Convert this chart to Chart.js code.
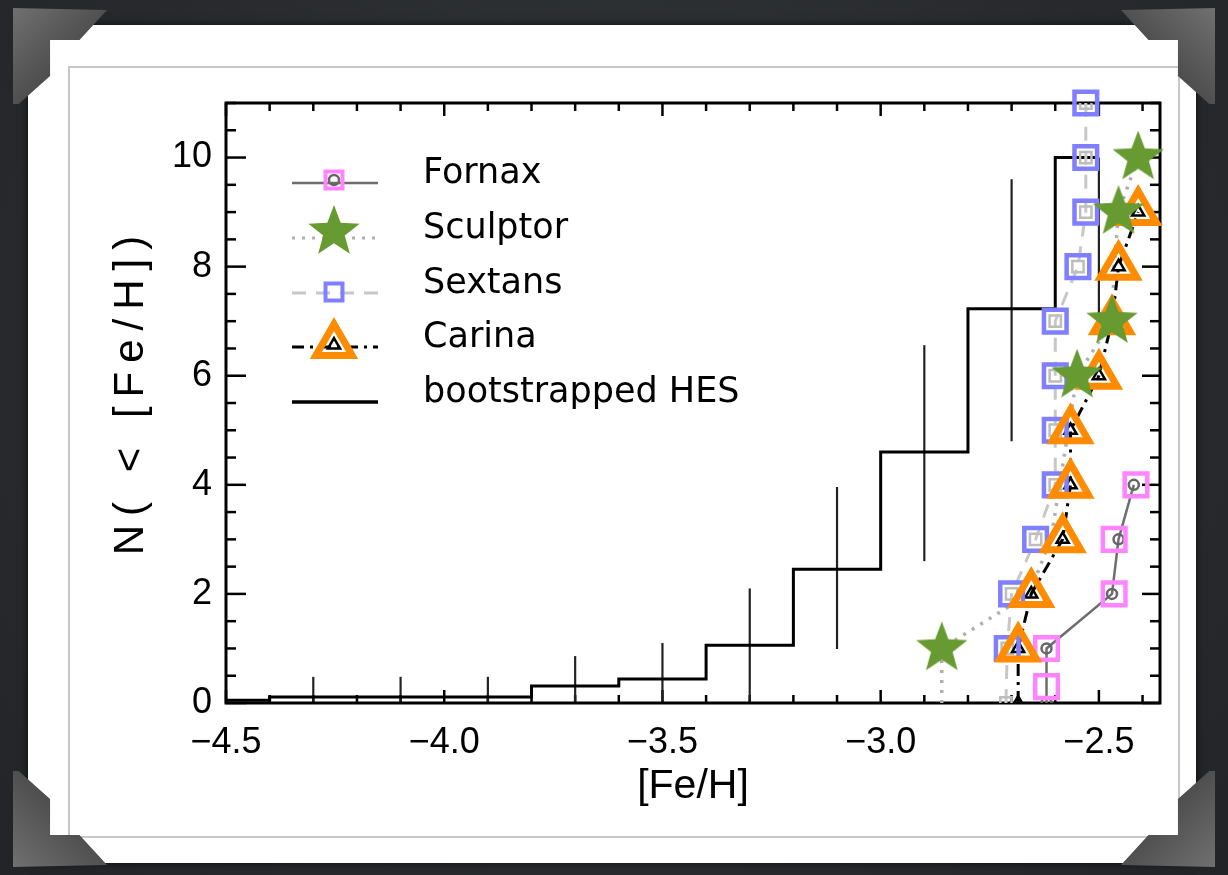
<!DOCTYPE html>
<html>
<head>
<meta charset="utf-8">
<script src="https://cdn.jsdelivr.net/npm/chart.js@4.4.1/dist/chart.umd.min.js"></script>
<style>
  html, body { margin: 0; padding: 0; }
  body { width: 1228px; height: 875px; overflow: hidden; position: relative;
         background: radial-gradient(circle at 50% 40%, #34373a, #222427); }
  .card { position: absolute; left: 28px; top: 25px; width: 1168px; height: 838px; background: #fff;
          box-shadow: 0 0 8px rgba(0,0,0,0.7); }
  .inner { position: absolute; left: 68px; top: 66px; width: 1112px; height: 772px;
           border: 2px solid #c8c8c8; box-sizing: border-box; }
  .corner { position: absolute; width: 95px; height: 97px;
            background: linear-gradient(135deg, #707070 0%, #4a4a4a 60%, #3a3a3a 100%);
            clip-path: polygon(0 0, 99% 2%, 70% 33%, 39% 33%, 39% 70%, 6% 99%, 0 99%);
            filter: drop-shadow(2px 2px 3px rgba(0,0,0,0.6)); }
  .tl { left: 13px; top: 8px; }
  .tr { left: 1120px; top: 8px; transform: scaleX(-1); }
  .bl { left: 13px; top: 770px; transform: scaleY(-1); }
  .br { left: 1120px; top: 770px; transform: scale(-1, -1); }
  #wrap { position: absolute; left: 0; top: 0; width: 1228px; height: 875px; }
</style>
</head>
<body>
<div class="card"></div>
<div class="inner"></div>
<div class="corner tl"></div>
<div class="corner tr"></div>
<div class="corner bl"></div>
<div class="corner br"></div>
<div id="wrap"><canvas id="mdf" width="1228" height="875"></canvas></div>

<script>
// axis ticks
const xTickValues = [-4.5, -4.0, -3.5, -3.0, -2.5];
const xTickLabels = ['\u22124.5', '\u22124.0', '\u22123.5', '\u22123.0', '\u22122.5'];
const yTickValues = [0, 2, 4, 6, 8, 10];
const yTickLabels = ['0', '2', '4', '6', '8', '10'];

// bootstrapped HES cumulative histogram (left bin edges, value held to next edge)
const hesEdges = [-4.5, -4.4, -3.8, -3.6, -3.4, -3.2, -3.0, -2.8, -2.6, -2.5];
const hesCounts = [0.05, 0.11, 0.31, 0.44, 1.06, 2.45, 4.6, 7.23, 10, 10];
// HES error bars at the bin centres
const hesErrFe = [-4.3, -4.1, -3.9, -3.7, -3.5, -3.3, -3.1, -2.9, -2.7, -2.5];
const hesErrLow = [0, 0, 0, 0, 0, 0.01, 0.99, 2.6, 4.8, 6.7];
const hesErrHigh = [0.48, 0.48, 0.48, 0.86, 1.1, 2.1, 3.96, 6.56, 9.6, 10];

// dwarf spheroidal cumulative counts
const fornaxFe = [-2.62, -2.62, -2.47, -2.455, -2.42];
const fornaxN = [0, 1, 2, 3, 4];
const fornaxMarkFe = [-2.62, -2.62, -2.465, -2.465, -2.415];
const fornaxMarkN = [0.3, 1, 2, 3, 4];

const sculptorFe = [-2.86, -2.86, -2.66, -2.61, -2.59, -2.57, -2.55, -2.47, -2.465, -2.455, -2.41];
const sculptorN = [0, 1, 2, 3, 4, 5, 6, 7, 8, 9, 10];
const sculptorStarFe = [-2.86, -2.55, -2.47, -2.455, -2.41];
const sculptorStarN = [1, 6, 7, 9, 10];

const sextansFe = [-2.713, -2.71, -2.70, -2.645, -2.60, -2.60, -2.60, -2.60, -2.548, -2.53, -2.53, -2.53];
const sextansN = [0, 1, 2, 3, 4, 5, 6, 7, 8, 9, 10, 11];

const carinaFe = [-2.685, -2.685, -2.655, -2.583, -2.565, -2.565, -2.50, -2.47, -2.455, -2.41];
const carinaN = [0, 1, 2, 3, 4, 5, 6, 7, 8, 9];

const GREEN = '#679a31';
const ORANGE = '#ff8c00';
const BLUE = '#7f7fff';
const PINK = '#ff84ff';
const tickFont = { family: 'Liberation Sans', size: 36 };
const legendFont = '35px "DejaVu Sans"';

const pts = (xs, ys) => xs.map((v, i) => ({ x: v, y: ys[i] }));

// filled five-point star used as a point style
function makeStar(size, color) {
    const c = document.createElement('canvas');
    c.width = c.height = size;
    const g = c.getContext('2d');
    const R = size / 2, r = R * 0.42;
    g.beginPath();
    for (let i = 0; i < 10; i++) {
        const a = -Math.PI / 2 + i * Math.PI / 5;
        const rad = i % 2 ? r : R;
        g.lineTo(R + rad * Math.cos(a), R + rad * Math.sin(a));
    }
    g.closePath();
    g.fillStyle = color;
    g.fill();
    return c;
}
const starImg = makeStar(54, GREEN);

const datasets = [
    { label: 'Sculptor', data: pts(sculptorStarFe, sculptorStarN), showLine: false,
      pointStyle: starImg, order: 0, clip: false },
    { label: 'Carina', data: pts(carinaFe.slice(1), carinaN.slice(1)), showLine: false,
      pointStyle: 'triangle', pointRadius: 21, pointBorderWidth: 7, pointBorderColor: ORANGE,
      pointBackgroundColor: 'rgba(0,0,0,0)', order: 1, clip: false },
    { label: 'Sextans', data: pts(sextansFe.slice(1), sextansN.slice(1)), showLine: false,
      pointStyle: 'rect', pointRadius: 16, pointBorderWidth: 4.5, pointBorderColor: BLUE,
      pointBackgroundColor: 'rgba(0,0,0,0)', order: 2, clip: false },
    { label: 'Fornax', data: pts(fornaxMarkFe, fornaxMarkN), showLine: false,
      pointStyle: 'rect', pointRadius: 16, pointBorderWidth: 4.5, pointBorderColor: PINK,
      pointBackgroundColor: 'rgba(0,0,0,0)', order: 3, clip: false },
    { label: 'Carina line', data: pts(carinaFe, carinaN), showLine: true, borderColor: '#000',
      borderWidth: 3, borderDash: [12, 6, 3, 6], pointStyle: 'triangle', pointRadius: 7,
      pointBorderWidth: 2.5, pointBorderColor: '#000', pointBackgroundColor: 'rgba(0,0,0,0)', order: 4 },
    { label: 'Fornax line', data: pts(fornaxFe, fornaxN), showLine: true, borderColor: '#6e6e6e',
      borderWidth: 2.5, pointStyle: 'circle', pointRadius: 5, pointBorderWidth: 2.5,
      pointBorderColor: '#666', pointBackgroundColor: 'rgba(0,0,0,0)', order: 5 },
    { label: 'Sextans line', data: pts(sextansFe, sextansN), showLine: true, borderColor: '#c8c8c8',
      borderWidth: 3, borderDash: [14, 10], pointStyle: 'rect', pointRadius: 8, pointBorderWidth: 2.5,
      pointBorderColor: '#bdbdbd', pointBackgroundColor: 'rgba(0,0,0,0)', order: 6 },
    { label: 'Sculptor line', data: pts(sculptorFe, sculptorN), showLine: true, borderColor: '#b0b0b0',
      borderWidth: 3.5, borderDash: [3, 7], pointRadius: 0, order: 7 },
    { label: 'bootstrapped HES', data: pts(hesEdges, hesCounts), showLine: true, stepped: true,
      borderColor: '#000', borderWidth: 3, pointRadius: 0, order: 8 }
];

// box, inward tick marks and HES error bars, under the markers
const framePlugin = {
    id: 'frame',
    beforeDatasetsDraw(chart) {
        const { ctx, chartArea: a, scales: { x, y } } = chart;
        const seg = (x1, y1, x2, y2) => { ctx.beginPath(); ctx.moveTo(x1, y1); ctx.lineTo(x2, y2); ctx.stroke(); };
        ctx.save();
        ctx.strokeStyle = '#000';
        ctx.lineWidth = 2.5;
        for (let i = 0; ; i++) {
            const v = x.min + i * 0.1;
            if (v > x.max + 1e-9) break;
            const px = x.getPixelForValue(v);
            const major = i % 5 === 0;
            seg(px, a.bottom, px, a.bottom - (major ? 13 : 8));
            seg(px, a.top, px, a.top + (major ? 13 : 8));
        }
        for (let i = 0; ; i++) {
            const v = y.min + i * 0.5;
            if (v > y.max + 1e-9) break;
            const py = y.getPixelForValue(v);
            const major = i % 4 === 0;
            seg(a.left, py, a.left + (major ? 20 : 10), py);
            seg(a.right, py, a.right - (major ? 18 : 10), py);
        }
        ctx.lineWidth = 2.2;
        ctx.strokeStyle = '#222';
        hesErrFe.forEach((v, i) => {
            const px = x.getPixelForValue(v);
            seg(px, y.getPixelForValue(hesErrLow[i]), px, y.getPixelForValue(hesErrHigh[i]));
        });
        ctx.lineWidth = 3;
        ctx.strokeStyle = '#000';
        ctx.strokeRect(a.left, a.top, a.right - a.left, a.bottom - a.top);
        ctx.restore();

        // rotated y axis title, letters spread out
        ctx.save();
        ctx.translate(a.left - 95, a.top + 288);
        ctx.rotate(-Math.PI / 2);
        ctx.font = '42px "Liberation Sans"';
        ctx.letterSpacing = '9px';
        ctx.fillStyle = '#000';
        ctx.textAlign = 'center';
        ctx.textBaseline = 'middle';
        ctx.fillText('N( < [Fe/H])', 0, 0);
        ctx.restore();
    }
};

// legend in the upper left of the plot
const legendPlugin = {
    id: 'innerLegend',
    afterDatasetsDraw(chart) {
        const { ctx, chartArea: a } = chart;
        const h = Chart.helpers;
        const x0 = a.left + 66, x1 = a.left + 152, xm = a.left + 108, xt = a.left + 197;
        const rows = [a.top + 80, a.top + 135, a.top + 190, a.top + 244, a.top + 299];
        const line = (yy, color, width, dash) => {
            ctx.save();
            ctx.strokeStyle = color; ctx.lineWidth = width; ctx.setLineDash(dash);
            ctx.beginPath(); ctx.moveTo(x0, yy); ctx.lineTo(x1, yy); ctx.stroke();
            ctx.restore();
        };
        const mark = (yy, style, radius, color, width) => {
            ctx.save();
            ctx.strokeStyle = color; ctx.fillStyle = 'rgba(0,0,0,0)'; ctx.lineWidth = width;
            h.drawPoint(ctx, { pointStyle: style, radius: radius, rotation: 0, borderWidth: width }, xm, yy);
            ctx.restore();
        };
        line(rows[0], '#6e6e6e', 2.5, []);
        mark(rows[0] - 3, 'circle', 5, '#666', 2.5);
        mark(rows[0] - 3, 'rect', 12, PINK, 4);
        line(rows[1], '#b0b0b0', 3, [3, 7]);
        mark(rows[1] - 6, starImg, 0, GREEN, 0);
        line(rows[2], '#c8c8c8', 3, [14, 10]);
        mark(rows[2] - 1, 'rect', 12, BLUE, 4);
        line(rows[3], '#000', 3, [12, 6, 3, 6]);
        mark(rows[3] - 2, 'triangle', 7, '#000', 2.5);
        mark(rows[3] - 2, 'triangle', 21, ORANGE, 7);
        line(rows[4], '#000', 3.5, []);
        ctx.save();
        ctx.font = legendFont;
        ctx.fillStyle = '#000';
        ctx.textBaseline = 'alphabetic';
        ['Fornax', 'Sculptor', 'Sextans', 'Carina', 'bootstrapped HES'].forEach((t, i) => {
            ctx.fillText(t, xt, rows[i]);
        });
        ctx.restore();
    }
};

new Chart(document.getElementById('mdf'), {
    type: 'scatter',
    data: { datasets },
    options: {
        responsive: false,
        animation: false,
        layout: { padding: { left: 111, right: 68, top: 103, bottom: 64 } },
        plugins: { legend: { display: false }, tooltip: { enabled: false } },
        scales: {
            x: {
                type: 'linear', min: -4.5, max: -2.36,
                border: { display: false },
                grid: { display: false, drawTicks: false },
                afterBuildTicks: s => { s.ticks = xTickValues.map(v => ({ value: v })); },
                afterFit: s => { s.height = 108; },
                ticks: { padding: 18, color: '#000', font: tickFont, maxRotation: 0,
                         callback: (v, i) => xTickLabels[i] },
                title: { display: true, text: '[Fe/H]', color: '#000',
                         font: { family: 'Liberation Sans', size: 41 }, padding: 0 }
            },
            y: {
                type: 'linear', min: 0, max: 11,
                border: { display: false },
                grid: { display: false, drawTicks: false },
                afterBuildTicks: s => { s.ticks = yTickValues.map(v => ({ value: v })); },
                afterFit: s => { s.width = 115; },
                ticks: { padding: 14, color: '#000', font: tickFont,
                         callback: (v, i) => yTickLabels[i] },
                title: { display: false }
            }
        }
    },
    plugins: [framePlugin, legendPlugin]
});
</script>
</body>
</html>
